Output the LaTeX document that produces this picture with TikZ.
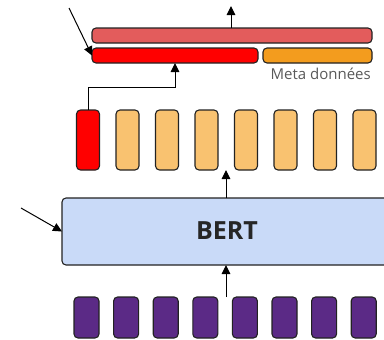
\documentclass[tikz,border=0pt]{standalone}
\usepackage{fontspec}
\newfontfamily\osans{Open Sans}
\usetikzlibrary{arrows.meta,calc}
\definecolor{barpink}{HTML}{E35C5C}
\definecolor{barred}{HTML}{FF0000}
\definecolor{barorange}{HTML}{F39C1E}
\definecolor{tokorange}{HTML}{F9C270}
\definecolor{tokpurple}{HTML}{5B2A86}
\definecolor{bertblue}{HTML}{C9DAF8}
\definecolor{edge}{HTML}{222222}
\tikzset{
  box/.style={draw=edge, line width=1.1pt, rounded corners=4pt, inner sep=0pt, outer sep=0pt},
  arr/.style={line width=1pt, draw=black, -{Triangle[length=9pt,width=8.5pt]}},
  lbl/.style={font=\osans\fontsize{15}{15}\selectfont, text=black!65}
}
\begin{document}
\begin{tikzpicture}[x=1pt,y=-1pt]
  \useasboundingbox (0,0) rectangle (384,340);
  \clip (0,0) rectangle (384,340);

  % output bars
  \node[box, fill=barpink, minimum width=280pt, minimum height=15pt, anchor=north west] (topbar) at (92,28) {};
  \node[box, fill=barred, minimum width=166pt, minimum height=15pt, anchor=north west] (redbar) at (92,48) {};
  \node[box, fill=barorange, minimum width=109pt, minimum height=15pt, anchor=north west] (metabar) at (263,48) {};
  \node[lbl, anchor=north east, inner sep=0pt] (meta) at (371,67.5) {Meta données};

  % output tokens
  \node[box, fill=barred, minimum width=23pt, minimum height=60pt, anchor=north] (t0) at (88,110) {};
  \foreach \i in {1,...,7} {
    \node[box, fill=tokorange, minimum width=23pt, minimum height=60pt, anchor=north] (t\i) at ({88+39.5*\i},110) {};
  }

  % encoder
  \node[box, fill=bertblue, minimum width=338pt, minimum height=67pt, anchor=north west] (bert) at (62,198)
    {};
  \node[font=\osans\bfseries\fontsize{25}{25}\selectfont, text=black!85] (bertlbl) at (227,231) {BERT};

  % input tokens
  \foreach \i in {0,...,7} {
    \node[box, fill=tokpurple, minimum width=25pt, minimum height=41pt, anchor=north] (p\i) at ({86.5+39.6*\i},297) {};
  }

  % connectors
  \coordinate (out) at (231,6);
  \coordinate (in1) at (69,8);
  \coordinate (in2) at (21,208);
  \coordinate (mid) at (226,170);
  \coordinate (pmid) at (226,297);

  \draw[arr] (topbar.north -| out) -- (out);
  \draw[arr] (in1) -- (redbar.west);
  \draw[arr] (t0.north) -- ++(0,-23) -| (redbar.south);
  \draw[arr] (bert.north -| mid) -- (mid);
  \draw[arr] (pmid) -- (bert.south -| pmid);
  \draw[arr] (in2) -- (bert.west);
\end{tikzpicture}
\end{document}
